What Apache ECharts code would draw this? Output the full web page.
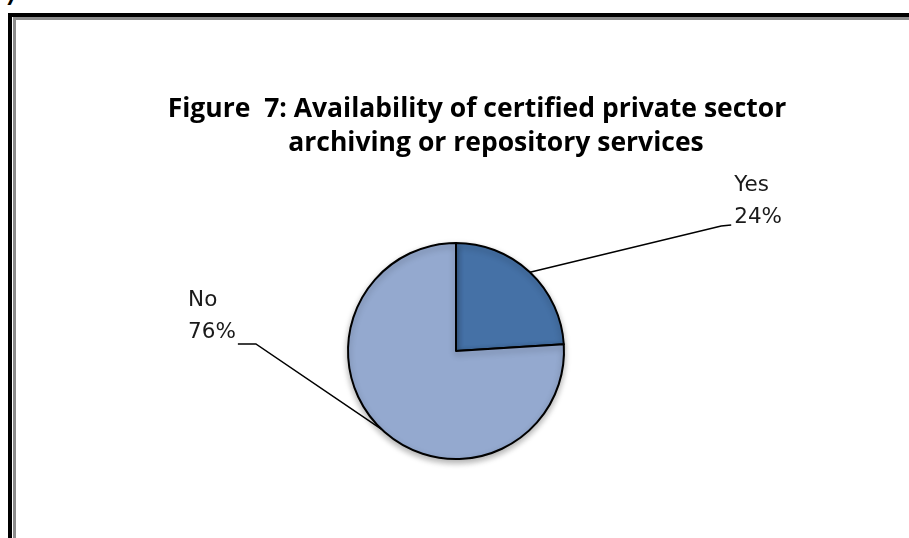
<!DOCTYPE html>
<html>
<head>
<meta charset="utf-8">
<script src="https://cdn.jsdelivr.net/npm/echarts@6/dist/echarts.min.js"></script>
<style>
  html, body { margin: 0; padding: 0; background: #fff; overflow: hidden; }
  #frame {
    position: absolute; left: 8px; top: 13px; width: 920px; height: 540px;
    border-left: 4px solid #000; border-top: 4px solid #000;
  }
  #inner {
    position: absolute; left: 1px; top: 0; right: 0; bottom: 0;
    border-left: 3px solid #8c8c8c; border-top: 3px solid #8c8c8c;
  }
  #prev {
    position: absolute; left: 5px; top: -19px; font: bold 24px Lato, sans-serif; color: #000;
  }
  #chart { position: absolute; left: 0; top: 0; width: 909px; height: 538px; }
</style>
</head>
<body>
<div id="prev">7</div>
<div id="frame"><div id="inner"></div></div>
<div id="chart"></div>
<script>
// Survey answers: share of respondents
const categories = ['Yes', 'No'];
const shares = [24, 76];
const sliceColors = ['#4571a6', '#94a9cf'];

const titleLine1 = 'Figure  7: Availability of certified private sector';
const titleLine2 = 'archiving or repository services';

// label block centres, as fractions of the chart box; drop = leader end below block bottom
const labelSpots = {
  Yes: { x: 0.834, y: 0.3736, side: 'left', drop: -8 },
  No:  { x: 0.2332, y: 0.589, side: 'right', drop: -5 }
};

const chart = echarts.init(document.getElementById('chart'), null, { renderer: 'canvas' });
const W = 909, H = 538;

const titleFont = { fontFamily: 'Open Sans', fontWeight: 'bold', fontSize: 26.5, color: '#000' };

chart.setOption({
  backgroundColor: 'transparent',
  animation: false,
  title: [
    { text: titleLine1, left: 472, top: 91, textAlign: 'center', textStyle: titleFont },
    { text: titleLine2, left: 491, top: 125, textAlign: 'center', textStyle: titleFont }
  ],
  series: [{
    type: 'pie',
    center: [456, 351],
    radius: 108,
    startAngle: 90,
    clockwise: true,
    data: categories.map((c, i) => ({
      name: c, value: shares[i], itemStyle: { color: sliceColors[i] }
    })),
    itemStyle: {
      borderColor: '#000', borderWidth: 2,
      shadowBlur: 6, shadowOffsetY: 3, shadowColor: 'rgba(0,0,0,0.3)'
    },
    label: {
      show: true,
      formatter: '{b}\n{c}%',
      fontFamily: 'DejaVu Sans', fontSize: 21.5, color: '#1a1a1a', lineHeight: 32,
      align: 'center'
    },
    labelLine: { show: true, length: 20, length2: 10, lineStyle: { color: '#000', width: 1.5 } },
    emphasis: { disabled: true },
    labelLayout: function (params) {
      const name = categories[params.dataIndex];
      const spot = labelSpots[name];
      const cx = spot.x * W, cy = spot.y * H;
      const r = params.labelRect;
      const w = r.width, h = r.height;
      const left = cx - w / 2, top = cy - h / 2;
      const anchor = params.labelLinePoints ? params.labelLinePoints[0] : [cx, cy];
      const lineY = top + h + spot.drop;
      let pts;
      if (spot.side === 'left') {
        pts = [anchor, [left - 13, lineY + 1], [left - 3, lineY]];
      } else {
        pts = [anchor, [left + w + 20, lineY], [left + w + 2, lineY]];
      }
      return { x: left, y: top, align: 'left', verticalAlign: 'top', labelLinePoints: pts };
    }
  }]
});
</script>
</body>
</html>
